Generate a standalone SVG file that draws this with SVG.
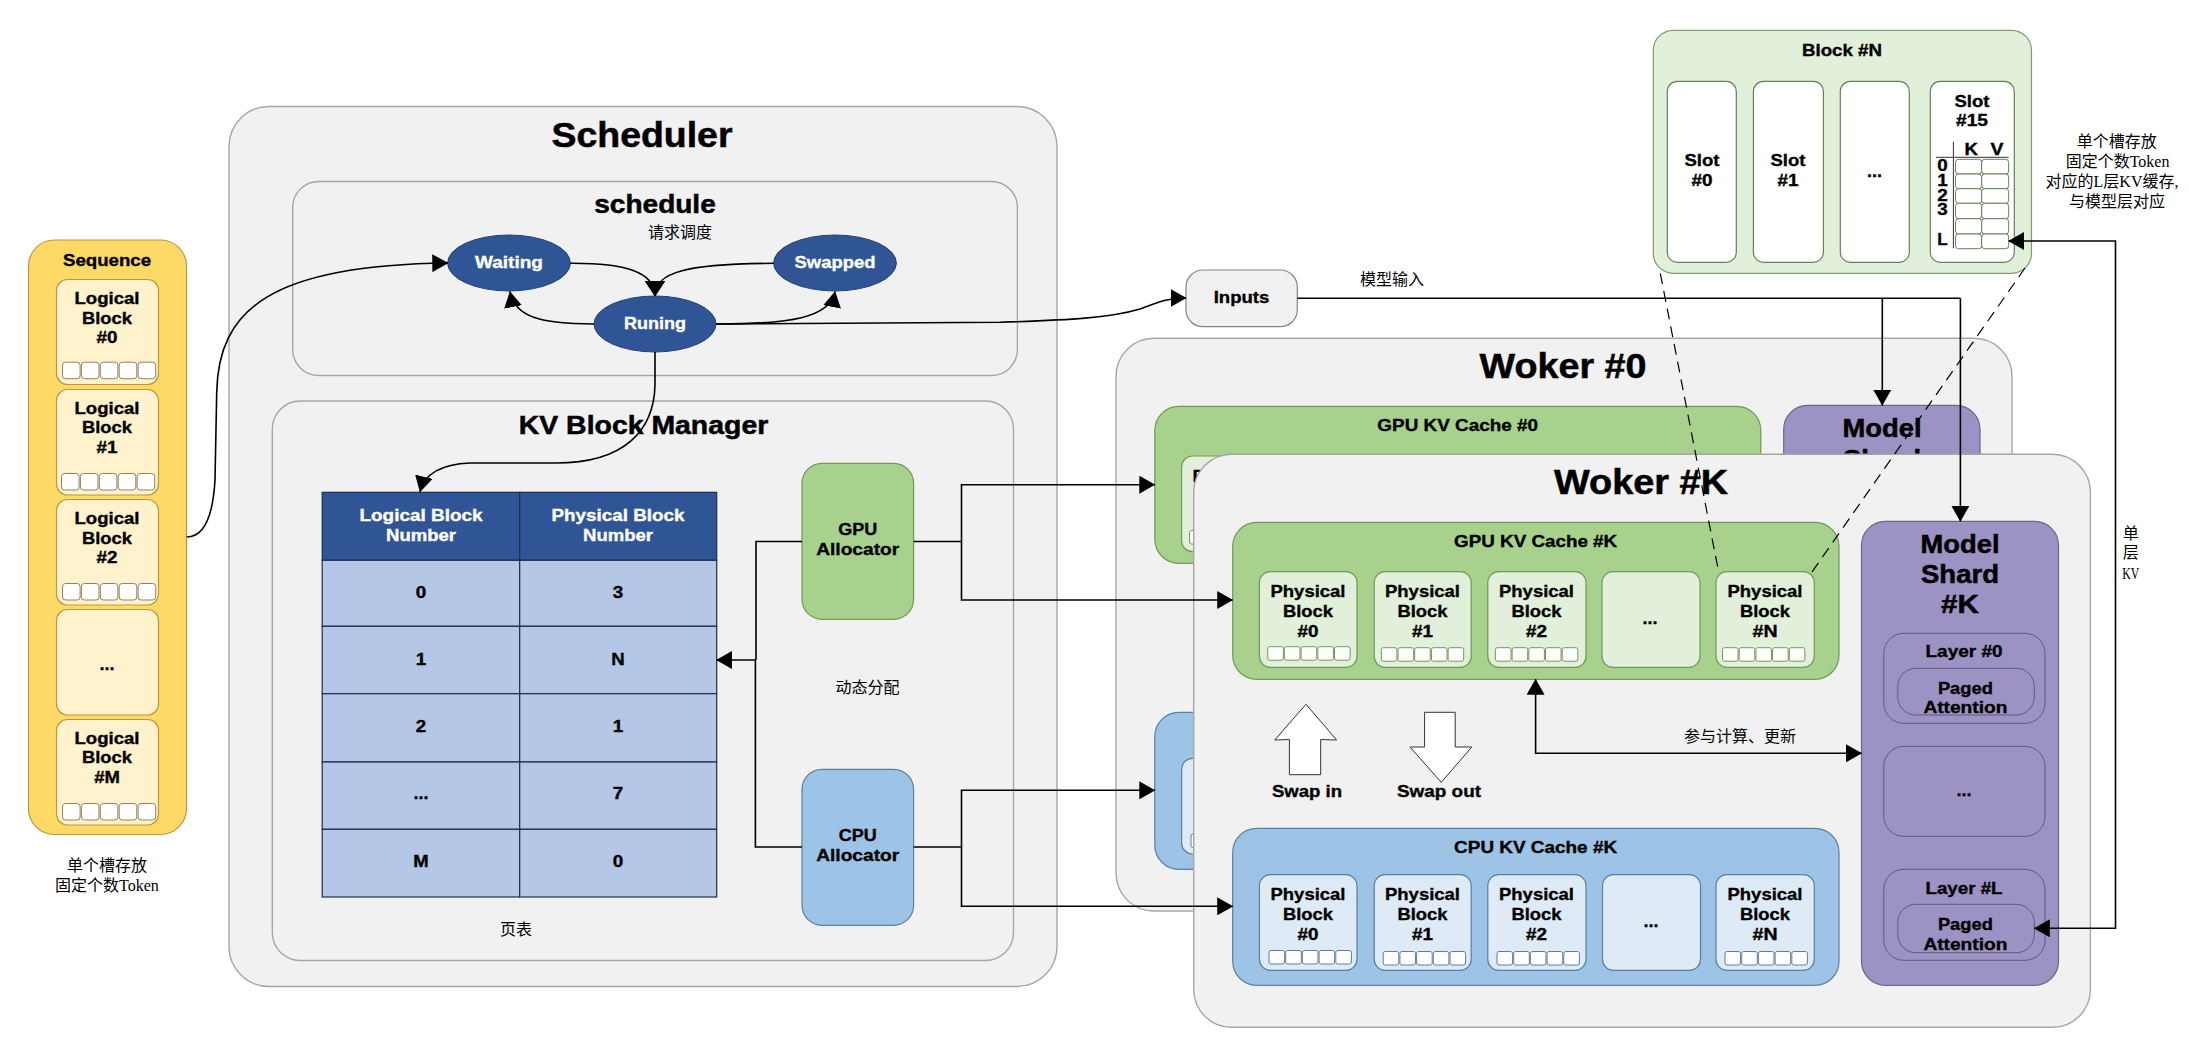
<svg xmlns="http://www.w3.org/2000/svg" xmlns:xlink="http://www.w3.org/1999/xlink" width="2189" height="1060" viewBox="0 0 2189 1060">
<style>
text{font-family:"Liberation Sans",Arial,sans-serif;font-weight:bold;text-anchor:middle;font-size:16.5px;fill:#000;stroke:#000;stroke-width:.35}
.w{fill:#fff;stroke:#fff}
.h1{font-size:34.5px;stroke-width:.5}
.h2{font-size:26px;stroke-width:.5}
.m{font-size:25px;stroke-width:.5}
.c{font-family:"Liberation Serif","Noto Sans CJK SC",serif;font-weight:normal;font-size:16px;stroke:none}
.panel{fill:#f1f1f1;stroke:#a6a6a6;stroke-width:1.4}
.seq{fill:#ffd966;stroke:#b59a45;stroke-width:1.2}
.lb{fill:#fff2cc;stroke:#b59a45;stroke-width:1.2}
.gc{fill:#a9d18e;stroke:#6f9a5a;stroke-width:1.2}
.cc{fill:#9dc3e6;stroke:#5a7fa5;stroke-width:1.2}
.gb{fill:#e2efda;stroke:#6f9a5a;stroke-width:1.2}
.cb{fill:#deebf7;stroke:#5a7fa5;stroke-width:1.2}
.slot{fill:#fff;stroke:#66805a;stroke-width:1.2}
.cellg{fill:#fff;stroke:#6f9a5a;stroke-width:1}
.cellc{fill:#fff;stroke:#5a7fa5;stroke-width:1}
.cells{fill:#fff;stroke:#a07c5c;stroke-width:1}
.cellk{fill:#fff;stroke:#66805a;stroke-width:1}
.ms{fill:#9c93c4;stroke:#6b6690;stroke-width:1.2}
.ly{fill:#9c93c4;stroke:#5f5a80;stroke-width:1}
.st{fill:#2f5597;stroke:#263f70;stroke-width:1}
.th{fill:#2f5597;stroke:#1f2d50;stroke-width:1.2}
.td{fill:#b4c7e7;stroke:#1f2d50;stroke-width:1.2}
.arr{fill:#fff;stroke:#333;stroke-width:1}
.ln{fill:none;stroke:#000;stroke-width:1.6}
.e{marker-end:url(#head)}
.ew{marker-end:url(#headw)}
.se{marker-start:url(#head);marker-end:url(#head)}
.d{fill:none;stroke:#000;stroke-width:1.2;stroke-dasharray:11 7}
.rule{stroke:#333;stroke-width:1}
</style>
<defs>
<marker id="head" viewBox="0 0 16 18" refX="15.5" refY="9" markerWidth="16" markerHeight="18" markerUnits="userSpaceOnUse" orient="auto-start-reverse"><path d="M0 0L16 9L0 18z" fill="#000"/></marker>
<marker id="headw" viewBox="0 0 16 21" refX="15.5" refY="10.5" markerWidth="16" markerHeight="21" markerUnits="userSpaceOnUse" orient="auto"><path d="M0 0L16 10.5L0 21z" fill="#000"/></marker>
<g id="s5"><rect x="0" width="17.6" height="16.5" rx="3"/><rect x="18.9" width="17.6" height="16.5" rx="3"/><rect x="37.8" width="17.6" height="16.5" rx="3"/><rect x="56.7" width="17.6" height="16.5" rx="3"/><rect x="75.6" width="17.6" height="16.5" rx="3"/></g>
<g id="w5"><rect x="0" width="15.6" height="13.5" rx="2"/><rect x="16.7" width="15.6" height="13.5" rx="2"/><rect x="33.4" width="15.6" height="13.5" rx="2"/><rect x="50.1" width="15.6" height="13.5" rx="2"/><rect x="66.8" width="15.6" height="13.5" rx="2"/></g>
</defs>

<g id="sequence">
<rect class="seq" x="28.5" y="240" width="158" height="594.5" rx="26"/>
<text x="107" y="265.5" textLength="88" lengthAdjust="spacingAndGlyphs">Sequence</text>
</g>
<g id="logical-block-0" class="node">
<rect class="lb" x="56.5" y="279.5" width="102" height="105" rx="11"/>
<text x="107" y="304" textLength="65" lengthAdjust="spacingAndGlyphs">Logical</text>
<text x="107" y="323.5" textLength="50" lengthAdjust="spacingAndGlyphs">Block</text>
<text x="107" y="343" textLength="21" lengthAdjust="spacingAndGlyphs">#0</text>
<use href="#s5" class="cells" x="62.5" y="362.2"/>
</g>
<g id="logical-block-1">
<rect class="lb" x="56.5" y="389.5" width="102" height="105.5" rx="11"/>
<text x="107" y="414" textLength="65" lengthAdjust="spacingAndGlyphs">Logical</text>
<text x="107" y="433" textLength="50" lengthAdjust="spacingAndGlyphs">Block</text>
<text x="107" y="453" textLength="21" lengthAdjust="spacingAndGlyphs">#1</text>
<use href="#s5" class="cells" x="61.5" y="473.5"/>
</g>
<g id="logical-block-2">
<rect class="lb" x="56.5" y="499.5" width="102" height="105.5" rx="11"/>
<text x="107" y="524" textLength="65" lengthAdjust="spacingAndGlyphs">Logical</text>
<text x="107" y="543.5" textLength="50" lengthAdjust="spacingAndGlyphs">Block</text>
<text x="107" y="563" textLength="21" lengthAdjust="spacingAndGlyphs">#2</text>
<use href="#s5" class="cells" x="62.5" y="583.5"/>
</g>
<g id="logical-block-dots">
<rect class="lb" x="56.5" y="609.5" width="102" height="105.5" rx="11"/>
<text x="107" y="670" textLength="15" lengthAdjust="spacingAndGlyphs">...</text>
</g>
<g id="logical-block-m">
<rect class="lb" x="56.5" y="719.5" width="102" height="105.5" rx="11"/>
<text x="107" y="744" textLength="65" lengthAdjust="spacingAndGlyphs">Logical</text>
<text x="107" y="763" textLength="50" lengthAdjust="spacingAndGlyphs">Block</text>
<text x="107" y="783" textLength="25.7" lengthAdjust="spacingAndGlyphs">#M</text>
<use href="#s5" class="cells" x="62.5" y="803.5"/>
</g>
<g id="sequence-note">
<text class="c" x="107" y="870.5">单个槽存放</text>
<text class="c" x="107" y="891">固定个数Token</text>
</g>

<g id="scheduler">
<rect class="panel" x="229" y="106.5" width="828" height="880" rx="40"/>
<text class="h1" x="642" y="147" textLength="181" lengthAdjust="spacingAndGlyphs">Scheduler</text>
</g>
<g id="schedule">
<rect class="panel" x="292.7" y="181.5" width="724.7" height="194" rx="26"/>
<text class="h2" x="655" y="213" textLength="121.5" lengthAdjust="spacingAndGlyphs">schedule</text>
<text class="c" x="680" y="238">请求调度</text>
</g>
<g id="waiting"><ellipse class="st" cx="509" cy="263" rx="61.4" ry="28"/><text class="w" x="509" y="268" textLength="68" lengthAdjust="spacingAndGlyphs">Waiting</text></g>
<g id="swapped"><ellipse class="st" cx="835" cy="263" rx="61.4" ry="28"/><text class="w" x="835" y="268" textLength="81" lengthAdjust="spacingAndGlyphs">Swapped</text></g>
<g id="running"><ellipse class="st" cx="655" cy="324" rx="61" ry="28"/><text class="w" x="655" y="329" textLength="62" lengthAdjust="spacingAndGlyphs">Runing</text></g>

<g id="kv-block-manager">
<rect class="panel" x="272.3" y="401" width="741.2" height="559.5" rx="28"/>
<text class="h2" x="643.5" y="434" textLength="249.5" lengthAdjust="spacingAndGlyphs">KV Block Manager</text>
<text class="c" x="516" y="935">页表</text>
<text class="c" x="867.5" y="693">动态分配</text>
</g>
<g id="page-table">
<rect class="th" x="322.2" y="492.3" width="197.5" height="68"/>
<rect class="th" x="519.7" y="492.3" width="197" height="68"/>
<text class="w" x="421" y="521" textLength="123" lengthAdjust="spacingAndGlyphs">Logical Block</text>
<text class="w" x="421" y="541" textLength="70" lengthAdjust="spacingAndGlyphs">Number</text>
<text class="w" x="618" y="521" textLength="133" lengthAdjust="spacingAndGlyphs">Physical Block</text>
<text class="w" x="618" y="541" textLength="70" lengthAdjust="spacingAndGlyphs">Number</text>
<rect class="td" x="322.2" y="560.3" width="197.5" height="66"/><rect class="td" x="519.7" y="560.3" width="197" height="66"/>
<rect class="td" x="322.2" y="626.3" width="197.5" height="67.4"/><rect class="td" x="519.7" y="626.3" width="197" height="67.4"/>
<rect class="td" x="322.2" y="693.7" width="197.5" height="68.3"/><rect class="td" x="519.7" y="693.7" width="197" height="68.3"/>
<rect class="td" x="322.2" y="762" width="197.5" height="67.3"/><rect class="td" x="519.7" y="762" width="197" height="67.3"/>
<rect class="td" x="322.2" y="829.3" width="197.5" height="67.7"/><rect class="td" x="519.7" y="829.3" width="197" height="67.7"/>
<text x="421" y="598" textLength="10.5" lengthAdjust="spacingAndGlyphs">0</text><text x="618" y="598" textLength="10.5" lengthAdjust="spacingAndGlyphs">3</text>
<text x="421" y="664.5" textLength="10.5" lengthAdjust="spacingAndGlyphs">1</text><text x="618" y="664.5" textLength="13.5" lengthAdjust="spacingAndGlyphs">N</text>
<text x="421" y="732" textLength="10.5" lengthAdjust="spacingAndGlyphs">2</text><text x="618" y="732" textLength="10.5" lengthAdjust="spacingAndGlyphs">1</text>
<text x="421" y="799" textLength="15" lengthAdjust="spacingAndGlyphs">...</text><text x="618" y="799" textLength="10.5" lengthAdjust="spacingAndGlyphs">7</text>
<text x="421" y="867" textLength="15.4" lengthAdjust="spacingAndGlyphs">M</text><text x="618" y="867" textLength="10.5" lengthAdjust="spacingAndGlyphs">0</text>
</g>
<g id="gpu-allocator">
<rect class="gc" x="802" y="463.3" width="111.6" height="156" rx="20"/>
<text x="857.7" y="535" textLength="39" lengthAdjust="spacingAndGlyphs">GPU</text>
<text x="857.7" y="555" textLength="83" lengthAdjust="spacingAndGlyphs">Allocator</text>
</g>
<g id="cpu-allocator">
<rect class="cc" x="802" y="769.3" width="111.6" height="156" rx="20"/>
<text x="857.7" y="841" textLength="38" lengthAdjust="spacingAndGlyphs">CPU</text>
<text x="857.7" y="861" textLength="83" lengthAdjust="spacingAndGlyphs">Allocator</text>
</g>

<g id="inputs">
<rect fill="#f1f1f1" stroke="#7f8a70" stroke-width="1.2" x="1186" y="270" width="111.3" height="56.7" rx="17"/>
<text x="1241.5" y="302.7" textLength="55.6" lengthAdjust="spacingAndGlyphs">Inputs</text>
</g>
<text class="c" id="inputs-label" x="1392" y="285">模型输入</text>

<g id="block-n">
<rect fill="#e2efda" stroke="#7f9a70" stroke-width="1.2" x="1653.3" y="30.3" width="378.2" height="243" rx="20"/>
<text x="1842" y="55.7" textLength="80" lengthAdjust="spacingAndGlyphs">Block #N</text>
<rect class="slot" x="1667.3" y="81.3" width="69" height="181" rx="10"/>
<text x="1702" y="165.7" textLength="35" lengthAdjust="spacingAndGlyphs">Slot</text><text x="1702" y="185.7" textLength="21" lengthAdjust="spacingAndGlyphs">#0</text>
<rect class="slot" x="1753.4" y="81.3" width="70" height="181" rx="10"/>
<text x="1788" y="165.7" textLength="35" lengthAdjust="spacingAndGlyphs">Slot</text><text x="1788" y="185.7" textLength="21" lengthAdjust="spacingAndGlyphs">#1</text>
<rect class="slot" x="1840.3" y="81.3" width="69" height="181" rx="10"/>
<text x="1874.6" y="176.7" textLength="15" lengthAdjust="spacingAndGlyphs">...</text>
<rect class="slot" x="1930.3" y="81.3" width="84" height="181" rx="10"/>
<text x="1972" y="106.7" textLength="35" lengthAdjust="spacingAndGlyphs">Slot</text><text x="1972" y="125.7" textLength="32" lengthAdjust="spacingAndGlyphs">#15</text>
<rect class="cellk" x="1955.5" y="159.3" width="26.2" height="14.7" rx="3"/><rect class="cellk" x="1981.7" y="159.3" width="27" height="14.7" rx="3"/>
<rect class="cellk" x="1955.5" y="174" width="26.2" height="14.7" rx="3"/><rect class="cellk" x="1981.7" y="174" width="27" height="14.7" rx="3"/>
<rect class="cellk" x="1955.5" y="188.7" width="26.2" height="14.6" rx="3"/><rect class="cellk" x="1981.7" y="188.7" width="27" height="14.6" rx="3"/>
<rect class="cellk" x="1955.5" y="203.3" width="26.2" height="15.4" rx="3"/><rect class="cellk" x="1981.7" y="203.3" width="27" height="15.4" rx="3"/>
<rect class="cellk" x="1955.5" y="218.7" width="26.2" height="15.3" rx="3"/><rect class="cellk" x="1981.7" y="218.7" width="27" height="15.3" rx="3"/>
<rect class="cellk" x="1955.5" y="234" width="26.2" height="14.7" rx="3"/><rect class="cellk" x="1981.7" y="234" width="27" height="14.7" rx="3"/>
<path class="rule" fill="none" d="M1953.4 141.7V248.3M1935.9 157.3H2008.7"/>
<text x="1971.2" y="155" textLength="13.5" lengthAdjust="spacingAndGlyphs">K</text><text x="1997" y="155" textLength="13" lengthAdjust="spacingAndGlyphs">V</text>
<text x="1942.5" y="171" textLength="10.5" lengthAdjust="spacingAndGlyphs">0</text><text x="1942.5" y="186" textLength="10.5" lengthAdjust="spacingAndGlyphs">1</text><text x="1942.5" y="200.7" textLength="10.5" lengthAdjust="spacingAndGlyphs">2</text><text x="1942.5" y="215.3" textLength="10.5" lengthAdjust="spacingAndGlyphs">3</text><text x="1942.5" y="245.3" textLength="10.5" lengthAdjust="spacingAndGlyphs">L</text>
</g>
<g id="block-n-note">
<text class="c" x="2116.7" y="146.7">单个槽存放</text>
<text class="c" x="2117.6" y="166.7">固定个数Token</text>
<text class="c" x="2112" y="186.7">对应的L层KV缓存,</text>
<text class="c" x="2117" y="206.7">与模型层对应</text>
</g>
<g id="layer-kv-note">
<text class="c" x="2130.7" y="539">单</text>
<text class="c" x="2130.7" y="558">层</text>
<text class="c" x="2130.7" y="579" textLength="17" lengthAdjust="spacingAndGlyphs">KV</text>
</g>

<g id="worker-0">
<rect class="panel" x="1116" y="338.3" width="896" height="572.7" rx="38"/>
<text class="h1" x="1563" y="378" textLength="167" lengthAdjust="spacingAndGlyphs">Woker #0</text>
<g id="gpu-cache-0">
<rect class="gc" x="1154.8" y="406.3" width="606" height="157" rx="24"/>
<text x="1457.7" y="431" textLength="160.7" lengthAdjust="spacingAndGlyphs">GPU KV Cache #0</text>
<rect class="gb" x="1181.6" y="456" width="97.6" height="95.7" rx="11"/>
<text x="1230" y="481.5" textLength="75" lengthAdjust="spacingAndGlyphs">Physical</text>
<use href="#w5" class="cellg" x="1189.5" y="530.5"/>
</g>
<g id="cpu-cache-0">
<rect class="cc" x="1154.8" y="712.3" width="606" height="157" rx="24"/>
<rect class="cb" x="1181.6" y="758.3" width="97.6" height="95.7" rx="11"/>
<text x="1230" y="784" textLength="75" lengthAdjust="spacingAndGlyphs">Physical</text>
<use href="#w5" class="cellc" x="1191" y="834"/>
</g>
<g id="model-shard-0">
<rect class="ms" x="1783.7" y="405.3" width="196.3" height="300" rx="24"/>
<text class="m" x="1882" y="437.3" textLength="79" lengthAdjust="spacingAndGlyphs">Model</text>
<text class="m" x="1882" y="467.5" textLength="78" lengthAdjust="spacingAndGlyphs">Shard</text>
</g>
</g>

<g id="worker-k">
<rect class="panel" x="1193.7" y="454.3" width="896.7" height="573" rx="38"/>
<text class="h1" x="1641" y="494.3" textLength="174" lengthAdjust="spacingAndGlyphs">Woker #K</text>
<text x="1307" y="797" textLength="70" lengthAdjust="spacingAndGlyphs">Swap in</text>
<text x="1439" y="797" textLength="84" lengthAdjust="spacingAndGlyphs">Swap out</text>
<polygon class="arr" id="swap-in" points="1306,704.3 1336.6,740 1320.7,739.5 1320.7,774.7 1289.4,774.7 1289.4,739.5 1274.7,740"/>
<polygon class="arr" id="swap-out" points="1424.6,712.3 1455.2,712.3 1455.2,747 1471.8,747 1441.2,782.3 1410,747 1424.6,747"/>
<text class="c" x="1740" y="741.7">参与计算、更新</text>
</g>

<g id="gpu-cache-k">
<rect class="gc" x="1232.7" y="522.3" width="606.3" height="157" rx="24"/>
<text x="1535.6" y="547.3" textLength="163" lengthAdjust="spacingAndGlyphs">GPU KV Cache #K</text>
</g>
<g id="gpu-block-0">
<rect class="gb" x="1259.4" y="571.7" width="97.6" height="95.6" rx="11"/>
<text x="1308" y="597" textLength="75" lengthAdjust="spacingAndGlyphs">Physical</text><text x="1308" y="617" textLength="50" lengthAdjust="spacingAndGlyphs">Block</text><text x="1308" y="637" textLength="21" lengthAdjust="spacingAndGlyphs">#0</text>
<use href="#w5" class="cellg" x="1267.7" y="646.7"/>
</g>
<g id="gpu-block-1">
<rect class="gb" x="1374.2" y="571.7" width="97" height="95.6" rx="11"/>
<text x="1422.5" y="597" textLength="75" lengthAdjust="spacingAndGlyphs">Physical</text><text x="1422.5" y="617" textLength="50" lengthAdjust="spacingAndGlyphs">Block</text><text x="1422.5" y="637" textLength="21" lengthAdjust="spacingAndGlyphs">#1</text>
<use href="#w5" class="cellg" x="1381.3" y="647.7"/>
</g>
<g id="gpu-block-2">
<rect class="gb" x="1487.8" y="571.7" width="98.2" height="95.6" rx="11"/>
<text x="1536.5" y="597" textLength="75" lengthAdjust="spacingAndGlyphs">Physical</text><text x="1536.5" y="617" textLength="50" lengthAdjust="spacingAndGlyphs">Block</text><text x="1536.5" y="637" textLength="21" lengthAdjust="spacingAndGlyphs">#2</text>
<use href="#w5" class="cellg" x="1495.4" y="647.7"/>
</g>
<g id="gpu-block-dots">
<rect class="gb" x="1602" y="571.7" width="98" height="95.6" rx="11"/>
<text x="1650" y="624" textLength="15" lengthAdjust="spacingAndGlyphs">...</text>
</g>
<g id="gpu-block-n">
<rect class="gb" x="1716" y="571.7" width="98.3" height="95.6" rx="11"/>
<text x="1765" y="597" textLength="75" lengthAdjust="spacingAndGlyphs">Physical</text><text x="1765" y="617" textLength="50" lengthAdjust="spacingAndGlyphs">Block</text><text x="1765" y="637" textLength="25" lengthAdjust="spacingAndGlyphs">#N</text>
<use href="#w5" class="cellg" x="1722.5" y="647.7"/>
</g>

<g id="cpu-cache-k">
<rect class="cc" x="1232.7" y="828.3" width="606.3" height="157" rx="24"/>
<text x="1535.6" y="853.3" textLength="163" lengthAdjust="spacingAndGlyphs">CPU KV Cache #K</text>
</g>
<g id="cpu-block-0">
<rect class="cb" x="1259.4" y="874.7" width="97.6" height="95.6" rx="11"/>
<text x="1308" y="899.5" textLength="75" lengthAdjust="spacingAndGlyphs">Physical</text><text x="1308" y="919.5" textLength="50" lengthAdjust="spacingAndGlyphs">Block</text><text x="1308" y="939.5" textLength="21" lengthAdjust="spacingAndGlyphs">#0</text>
<use href="#w5" class="cellc" x="1269" y="950.5"/>
</g>
<g id="cpu-block-1">
<rect class="cb" x="1374.2" y="874.7" width="97" height="95.6" rx="11"/>
<text x="1422.5" y="899.5" textLength="75" lengthAdjust="spacingAndGlyphs">Physical</text><text x="1422.5" y="919.5" textLength="50" lengthAdjust="spacingAndGlyphs">Block</text><text x="1422.5" y="939.5" textLength="21" lengthAdjust="spacingAndGlyphs">#1</text>
<use href="#w5" class="cellc" x="1383.2" y="951.5"/>
</g>
<g id="cpu-block-2">
<rect class="cb" x="1487.8" y="874.7" width="98.2" height="95.6" rx="11"/>
<text x="1536.5" y="899.5" textLength="75" lengthAdjust="spacingAndGlyphs">Physical</text><text x="1536.5" y="919.5" textLength="50" lengthAdjust="spacingAndGlyphs">Block</text><text x="1536.5" y="939.5" textLength="21" lengthAdjust="spacingAndGlyphs">#2</text>
<use href="#w5" class="cellc" x="1497" y="951.5"/>
</g>
<g id="cpu-block-dots">
<rect class="cb" x="1602.5" y="874.7" width="98" height="95.6" rx="11"/>
<text x="1651" y="927" textLength="15" lengthAdjust="spacingAndGlyphs">...</text>
</g>
<g id="cpu-block-n">
<rect class="cb" x="1716" y="874.7" width="98.3" height="95.6" rx="11"/>
<text x="1765" y="899.5" textLength="75" lengthAdjust="spacingAndGlyphs">Physical</text><text x="1765" y="919.5" textLength="50" lengthAdjust="spacingAndGlyphs">Block</text><text x="1765" y="939.5" textLength="25" lengthAdjust="spacingAndGlyphs">#N</text>
<use href="#w5" class="cellc" x="1725" y="951.5"/>
</g>

<g id="model-shard-k">
<rect class="ms" x="1861.5" y="521.3" width="197" height="464" rx="24"/>
<text class="m" x="1960" y="553.3" textLength="79" lengthAdjust="spacingAndGlyphs">Model</text>
<text class="m" x="1960" y="583.3" textLength="78" lengthAdjust="spacingAndGlyphs">Shard</text>
<text class="m" x="1960" y="613.3" textLength="38" lengthAdjust="spacingAndGlyphs">#K</text>
</g>
<g id="layer-0">
<rect class="ly" x="1883.8" y="633.3" width="161.2" height="90" rx="20"/>
<text x="1964" y="657" textLength="77" lengthAdjust="spacingAndGlyphs">Layer #0</text>
<rect class="ly" x="1897.8" y="668.3" width="136.5" height="46.7" rx="18"/>
<text x="1965.4" y="693.5" textLength="55" lengthAdjust="spacingAndGlyphs">Paged</text>
<text x="1965.4" y="712.5" textLength="84" lengthAdjust="spacingAndGlyphs">Attention</text>
</g>
<g id="layer-dots">
<rect class="ly" x="1883.8" y="746.3" width="161.2" height="90" rx="20"/>
<text x="1964" y="796" textLength="15" lengthAdjust="spacingAndGlyphs">...</text>
</g>
<g id="layer-l">
<rect class="ly" x="1883.8" y="869.3" width="161.2" height="91" rx="20"/>
<text x="1964" y="894" textLength="77" lengthAdjust="spacingAndGlyphs">Layer #L</text>
<rect class="ly" x="1897.8" y="904.3" width="136.5" height="48.4" rx="18"/>
<text x="1965.4" y="929.5" textLength="55" lengthAdjust="spacingAndGlyphs">Paged</text>
<text x="1965.4" y="949.5" textLength="84" lengthAdjust="spacingAndGlyphs">Attention</text>
</g>

<g id="connectors">
<path class="ln e" d="M186.7 537C205 537 213 515 215 480L216.7 393C218 310 270 265 447.8 263"/>
<path class="ln ew" d="M570.5 263.3C625 263 655 272 655 296"/>
<path class="ln ew" d="M774 263.3C685 264 655 272 655 296"/>
<path class="ln e" d="M594 324C540 324 515 317 510 291.7"/>
<path class="ln e" d="M716 324C790 324 830 318 835 291.7"/>
<path class="ln e" d="M716 324L1000 322.3C1070 320 1110 318 1140 309C1155 304 1165 298 1186 298"/>
<path class="ln e" d="M655 352L655 385C654 430 625 463 556 463L470 463C445 464 425 472 420 491.7"/>
<path class="ln" d="M1297.3 298.3H1960.4"/>
<path class="ln e" d="M1882.3 298.3V405.3"/>
<path class="ln e" d="M1960.4 298.3V521.3"/>
<path class="ln" d="M802 541.5H756V660"/>
<path class="ln" d="M802 847H755.4V660"/>
<path class="ln e" d="M756 660H716.6"/>
<path class="ln e" d="M913.6 541.5H961.5V484.7H1154.8"/>
<path class="ln e" d="M961.5 541.5V600H1232.7"/>
<path class="ln e" d="M913.6 847H961.5V790.3H1154.8"/>
<path class="ln e" d="M961.5 847V906.3H1232.7"/>
<path class="ln se" d="M1535.6 679.3V753.3H1861.5"/>
<path class="ln se" d="M2008.7 241H2115.5V928.3H2034.3"/>
<path class="d" d="M1660.3 273.3L1718.6 571.7"/>
<path class="d" d="M2025 268L1811 573.3"/>
</g>
</svg>
